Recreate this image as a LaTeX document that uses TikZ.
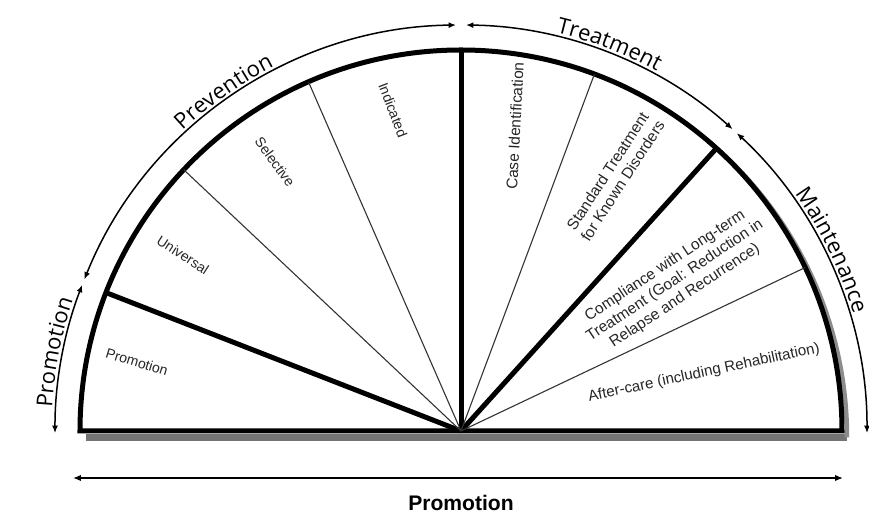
\documentclass[tikz,border=0pt]{standalone}
\usepackage{fontspec}
\setmainfont{Liberation Sans}
\newfontfamily\arcfamily{Open Sans}
\usetikzlibrary{arrows.meta,decorations.text}
\newcommand\ringfont{\arcfamily\fontsize{12.5}{14}\selectfont}
\def\rimR{7.62}
\def\ringR{8.12}

\tikzset{
	thickspoke/.style={line width=1mm},
	thinspoke/.style={line width=0.22mm, color=black!80},
	seglabel/.style={font=\fontsize{8}{9.3}\selectfont, text=black!85, align=center, inner sep=1pt},
	wideseg/.style={seglabel, font=\fontsize{8.8}{10.2}\selectfont},
	ringarrow/.style={line width=0.3mm, {Latex[length=1.5mm,width=1.2mm]}-{Latex[length=1.5mm,width=1.2mm]}},
	ringtext/.style={decorate, decoration={text along path, text align=center, raise=2pt, text={|\ringfont|#1}}}
}

\begin{document}
\begin{tikzpicture}
	%%%%% START %%%%%
	\useasboundingbox (-9.22,-1.64) rectangle (8.16,8.62);
	\coordinate (O) at (0,0);
	
	% shadow under the fan
	\draw[line width=1.3mm, color=black!55] (-7.5,-0.13) -- (7.72,-0.13);
	\draw[line width=0.9mm, color=black!45] (7.72,-0.13) arc[start angle=0, end angle=50, radius=7.72];
	
	% fan
	\draw[thickspoke, line join=miter] (-\rimR,0) -- (\rimR,0) arc[start angle=0, end angle=180, radius=\rimR] -- cycle;
	\foreach \a in {158.7,90,47.9} \draw[thickspoke] (O) -- (\a:\rimR);
	\foreach \a in {136.7,113.6,69.5,25.4} \draw[thinspoke] (O) -- (\a:\rimR);
	
	% ring of stages
	\draw[ringarrow] (180.3:\ringR) arc[start angle=180.3, end angle=158.9, radius=\ringR];
	\draw[ringarrow] (158.1:\ringR) arc[start angle=158.1, end angle=90.7, radius=\ringR];
	\draw[ringarrow] (89.3:\ringR) arc[start angle=89.3, end angle=48, radius=\ringR];
	\draw[ringarrow] (47.2:\ringR) arc[start angle=47.2, end angle=-0.3, radius=\ringR];
	
	\path[ringtext=Promotion] (195:\ringR) arc[start angle=195, end angle=143, radius=\ringR];
	\path[ringtext=Prevention] (152:\ringR) arc[start angle=152, end angle=98, radius=\ringR];
	\path[ringtext=Treatment] (96:\ringR) arc[start angle=96, end angle=42, radius=\ringR];
	\path[ringtext=Maintenance] (53:\ringR) arc[start angle=53, end angle=-1, radius=\ringR];
	
	% segment labels
	\node[seglabel, rotate=-17] (promo) at (-6.48,1.38) {Promotion};
	\node[seglabel, rotate=-33] (univ) at (-5.56,3.52) {Universal};
	\node[seglabel, rotate=-54] (selec) at (-3.72,5.38) {Selective};
	\node[seglabel, rotate=-69] (indic) at (-1.36,6.42) {Indicated};
	\node[wideseg, rotate=87] (caseid) at (1.08,6.1) {Case Identification};
	\node[wideseg, rotate=57] (stdtreat) at (3.08,5.1) {Standard Treatment\\for Known Disorders};
	\node[wideseg, rotate=33.5] (compl) at (4.28,3.0) {Compliance with Long-term\\Treatment (Goal: Reduction in\\Relapse and Recurrence)};
	\node[seglabel, font=\fontsize{8.6}{10}\selectfont, rotate=12] (after) at (4.86,1.16) {After-care (including Rehabilitation)};
	
	% bottom axis
	\coordinate (axisL) at (-7.76,-0.94);
	\coordinate (axisR) at (7.64,-0.94);
	\draw[line width=0.3mm, {Latex[length=1.6mm,width=1.3mm]}-{Latex[length=1.6mm,width=1.3mm]}] (axisL) -- (axisR);
	\node[font=\bfseries\fontsize{12}{14}\selectfont] (axislabel) at (0,-1.44) {Promotion};
	%%%%% END %%%%%
\end{tikzpicture}
\end{document}
